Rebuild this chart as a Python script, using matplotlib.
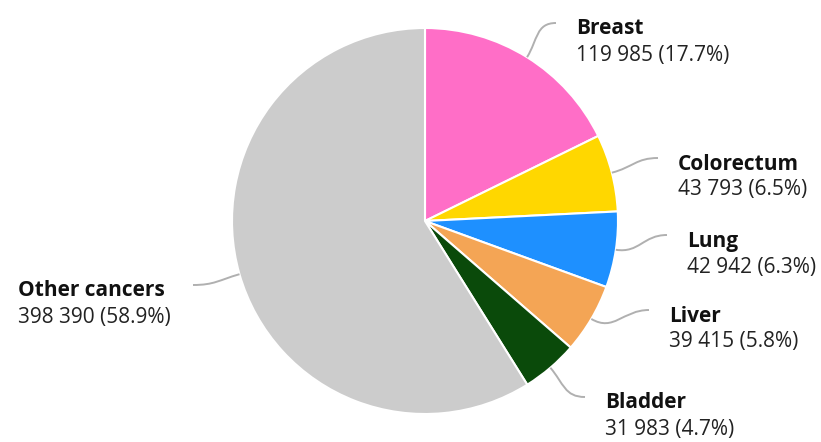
import numpy as np
import matplotlib.pyplot as plt
from matplotlib.path import Path
from matplotlib.patches import PathPatch

plt.rcParams['font.family'] = ['Open Sans', 'DejaVu Sans']

# data
cancers = ["Breast", "Colorectum", "Lung", "Liver", "Bladder", "Other cancers"]
cases = [119985, 43793, 42942, 39415, 31983, 398390]
colors = ["#FF6EC7", "#FFD700", "#1E90FF", "#F4A555", "#0A4A0A", "#CCCCCC"]

# label anchors in pixel coords (x of text edge, y of name line), side of label
label_pos = [(576, 28), (678, 163), (687, 240), (669, 315), (605, 402), (172, 290)]
label_side = ["right", "right", "right", "right", "right", "left"]

W, H = 821, 442
cx, cy, R = 425, 221, 193


def py(y):
    # pixel row -> data y
    return H - y


fig = plt.figure(figsize=(W / 100, H / 100), dpi=100)
ax = fig.add_axes([0, 0, 1, 1])

wedges, _ = ax.pie(cases, colors=colors, startangle=90, counterclock=False,
                   center=(cx, py(cy)), radius=R, frame=True,
                   wedgeprops=dict(edgecolor='white', linewidth=1.5))
ax.set_xlim(0, W)
ax.set_ylim(0, H)
ax.set_aspect('equal')
ax.axis('off')

total = sum(cases)
for w, name, val, (lx, ly), side in zip(wedges, cancers, cases, label_pos, label_side):
    ang = np.deg2rad((w.theta1 + w.theta2) / 2)
    ux, uy = np.cos(ang), np.sin(ang)
    x0 = cx + R * ux
    y0 = py(cy) + R * uy
    d = 1 if side == "right" else -1
    ex = lx - 20 if side == "right" else lx + 21
    ey = py(ly - 5)
    # smooth connector: leaves the slice radially, arrives horizontally
    k = 0.45 * np.hypot(ex - x0, ey - y0)
    path = Path([(x0, y0), (x0 + ux * k, y0 + uy * k), (ex - d * k, ey), (ex, ey)],
                [Path.MOVETO, Path.CURVE4, Path.CURVE4, Path.CURVE4])
    ax.add_patch(PathPatch(path, facecolor='none', edgecolor='#B0B0B0', lw=1.4))

    pct = val / total * 100
    valtxt = f"{val:,}".replace(",", " ") + f" ({pct:.1f}%)"
    tx = lx if side == "right" else 18
    ax.text(tx, py(ly + 1), name, fontsize=15, fontweight='bold', ha='left', va='center', color='#111111')
    ax.text(tx, py(ly + 27), valtxt, fontsize=15, ha='left', va='center', color='#222222')

fig.savefig("out.png", dpi=100)
